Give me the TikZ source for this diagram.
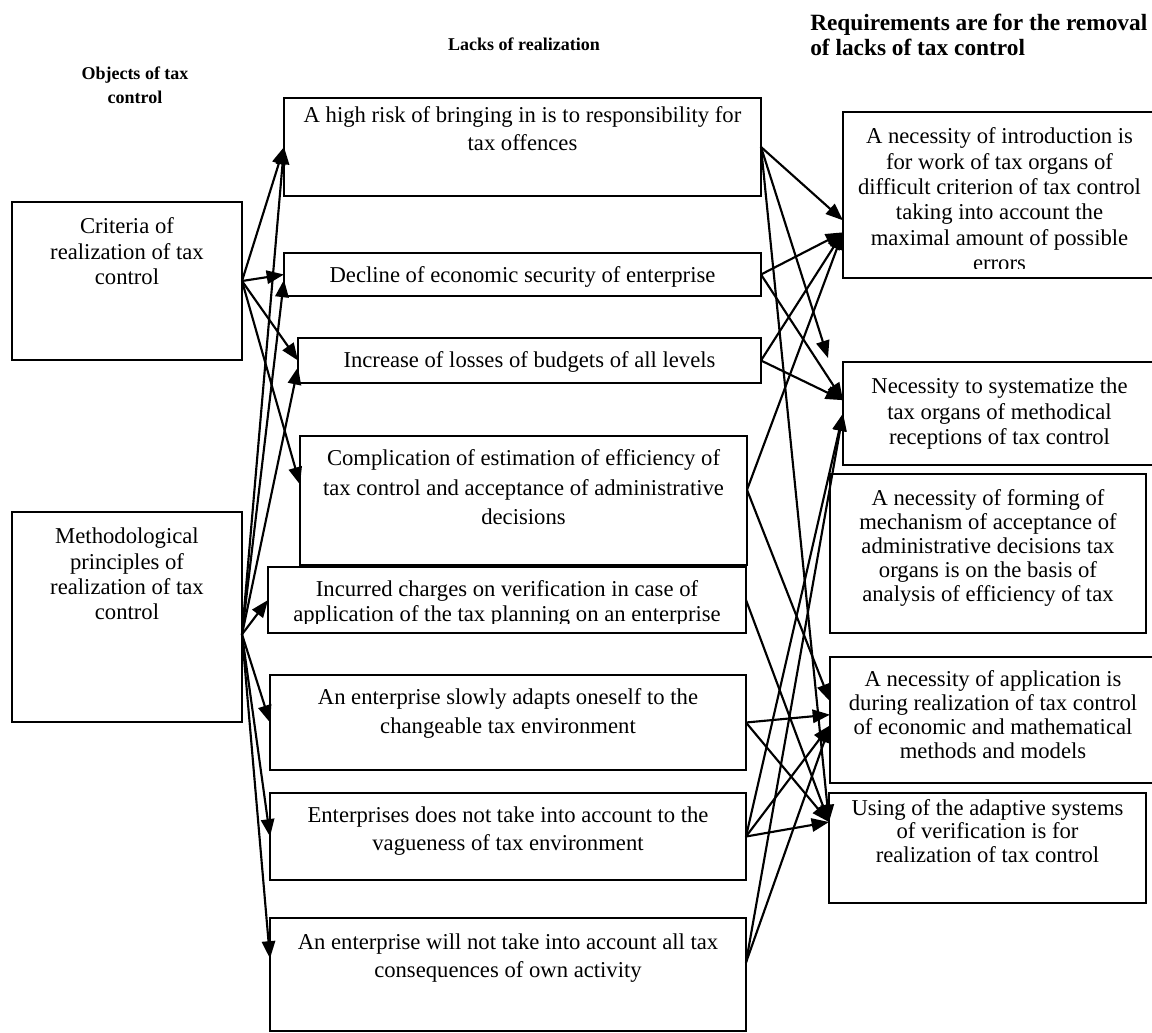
\documentclass[tikz,border=0pt]{standalone}
\usepackage{fontspec}
\setmainfont{Liberation Serif}
\usetikzlibrary{arrows.meta, positioning, calc}

\tikzset{
  box/.style={inner sep=0pt, outer sep=0pt, anchor=north west},
  frame/.style={line width=1.3pt},
  link/.style={-{Triangle[length=13pt,width=10pt]}, line width=1.6pt},
  head/.style={font=\fontsize{13.5}{18}\selectfont\bfseries, align=center, inner sep=0pt}
}

% box: name, x1, y1, x2, y2, top pad, leading, text, hidden strip at the bottom
\newcommand{\tbox}[9]{%
  \begin{scope}
    \clip (#2,#3) rectangle (#4,#5-#9);
    \node[box] (#1) at (#2,#3)
      {\parbox[t][\dimexpr(#5pt-#3pt)*3/4\relax][t]{\dimexpr(#4pt-#2pt)*3/4\relax}%
        {\centering\fontsize{17}{#7}\selectfont\vspace*{#6pt}#8\par}};
  \end{scope}
  \draw[frame] (#1.north west) rectangle (#1.south east);}

\begin{document}
\begin{tikzpicture}[x=0.75pt, y=-0.75pt]
    \useasboundingbox (0,0) rectangle (1152,1032);

    % === Headers ===
    \node[head] (hobj) at (135,85) {Objects of tax\\control};
    \node[head] (hlack) at (524,44) {Lacks of realization};
    \node[head, font=\fontsize{17.5}{19}\selectfont\bfseries, align=left, anchor=west] (hreq) at (810,35)
      {Requirements are for the removal\\of lacks of tax control};

    % === Objects of tax control ===
    \tbox{l1}{12}{202}{242}{360}{12}{19}{Criteria of\\realization of tax\\control}{0}
    \tbox{l2}{12}{512}{242}{722}{12}{19}{Methodological\\principles of\\realization of tax\\control}{0}

    % === Lacks of realization ===
    \tbox{m1}{284}{98}{761}{196}{6.5}{21}{A high risk of bringing in is to responsibility for\\tax offences}{0}
    \tbox{m2}{284}{253}{761}{296}{10}{21}{Decline of economic security of enterprise}{0}
    \tbox{m3}{298}{338}{761}{383}{10.5}{21}{Increase of losses of budgets of all levels}{0}
    \tbox{m4}{300}{436}{747}{565}{10.5}{22}{Complication of estimation of efficiency of\\tax control and acceptance of administrative\\decisions}{0}
    \tbox{m5}{268}{567}{746}{633}{10}{19}{Incurred charges on verification in case of\\application of the tax planning on an enterprise}{10}
    \tbox{m6}{270}{675}{746}{770}{10.5}{21.5}{An enterprise slowly adapts oneself to the\\changeable tax environment}{0}
    \tbox{m7}{270}{793}{746}{880}{10.5}{21}{Enterprises does not take into account to the\\vagueness of tax environment}{0}
    \tbox{m8}{270}{918}{746}{1031}{12}{21}{An enterprise will not take into account all tax\\consequences of own activity}{0}

    % === Requirements ===
    \tbox{r1}{843}{112}{1156}{278}{12}{19}{A necessity of introduction is\\for work of tax organs of\\difficult criterion of tax control\\taking into account the\\maximal amount of possible\\errors}{10}
    \tbox{r2}{843}{362}{1156}{465}{12}{19}{Necessity to systematize the\\tax organs of methodical\\receptions of tax control}{0}
    \tbox{r3}{830}{474}{1146}{633}{12}{18}{A necessity of forming of\\mechanism of acceptance of\\administrative decisions tax\\organs is on the basis of\\analysis of efficiency of tax}{0}
    \tbox{r4}{830}{657}{1156}{783}{10.5}{18}{A necessity of application is\\during realization of tax control\\of economic and mathematical\\methods and models}{0}
    \tbox{r5}{829}{793}{1146}{903}{5}{17.5}{Using of the adaptive systems\\of verification is for\\realization of tax control}{0}

    % free arrow end above the second requirement
    \coordinate (drop) at (828,358);

    % === Objects -> lacks ===
    \draw[link] (l1.east) -- (m1.west);
    \draw[link] (l1.east) -- (m2.west);
    \draw[link] (l1.east) -- (m3.west);
    \draw[link] (l1.east) -- ([yshift=12pt]m4.west);
    \draw[link] ([yshift=-13pt]l2.east) -- (m1.west);
    \draw[link] ([yshift=-13pt]l2.east) -- ([yshift=-4pt]m2.west);
    \draw[link] ([yshift=-13pt]l2.east) -- ([yshift=-5pt]m3.west);
    \draw[link] ([yshift=-13pt]l2.east) -- (m5.west);
    \draw[link] ([yshift=-13pt]l2.east) -- (m6.west);
    \draw[link] ([yshift=-13pt]l2.east) -- (m7.west);
    \draw[link] ([yshift=-13pt]l2.east) -- ([yshift=12pt]m8.west);

    % === Lacks -> requirements ===
    \draw[link] (m1.east) -- ([yshift=-19pt]r1.west);
    \draw[link] (m1.east) -- (drop);
    \draw[link] (m1.east) -- ([yshift=19.5pt]r5.west);
    \draw[link] (m2.east) -- ([yshift=-28pt]r1.west);
    \draw[link] (m2.east) -- ([yshift=10pt]r2.west);
    \draw[link] (m3.east) -- ([yshift=-28pt]r1.west);
    \draw[link] (m3.east) -- ([yshift=10pt]r2.west);
    \draw[link] ([yshift=8pt]m4.east) -- ([yshift=-28pt]r1.west);
    \draw[link] ([yshift=8pt]m4.east) -- ([yshift=14pt]r4.west);
    \draw[link] (m5.east) -- ([yshift=19.5pt]r5.west);
    \draw[link] (m6.east) -- ([yshift=4pt]r4.west);
    \draw[link] (m6.east) -- ([yshift=19.5pt]r5.west);
    \draw[link] (m7.east) -- (r2.west);
    \draw[link] (m7.east) -- ([yshift=-4pt]r4.west);
    \draw[link] (m7.east) -- ([yshift=19.5pt]r5.west);
    \draw[link] ([yshift=9pt]m8.east) -- (r2.west);
    \draw[link] ([yshift=9pt]m8.east) -- ([yshift=-4pt]r4.west);

\end{tikzpicture}
\end{document}
